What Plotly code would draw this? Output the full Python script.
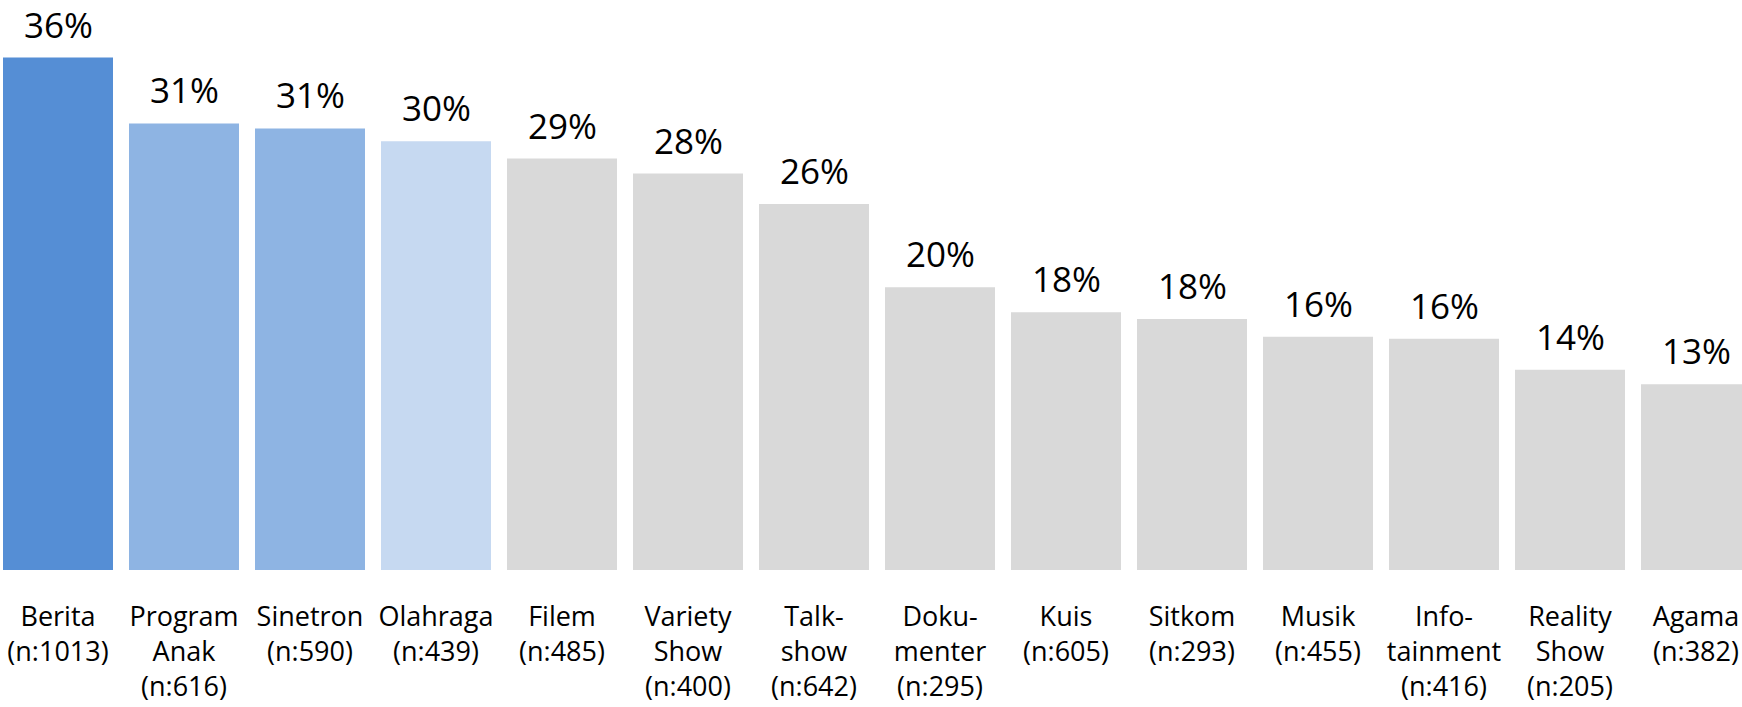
import plotly.graph_objects as go

categories = ["Berita", "Program Anak", "Sinetron", "Olahraga", "Filem", "Variety Show",
              "Talk-show", "Dokumenter", "Kuis", "Sitkom", "Musik", "Infotainment",
              "Reality Show", "Agama"]
tick_labels = ["Berita<br>(n:1013)", "Program<br>Anak<br>(n:616)", "Sinetron<br>(n:590)",
               "Olahraga<br>(n:439)", "Filem<br>(n:485)", "Variety<br>Show<br>(n:400)",
               "Talk-<br>show<br>(n:642)", "Doku-<br>menter<br>(n:295)", "Kuis<br>(n:605)",
               "Sitkom<br>(n:293)", "Musik<br>(n:455)", "Info-<br>tainment<br>(n:416)",
               "Reality<br>Show<br>(n:205)", "Agama<br>(n:382)"]
values = [0.3596, 0.3134, 0.3099, 0.3008, 0.2887, 0.2782, 0.2569, 0.1985, 0.1808,
          0.1761, 0.1637, 0.1623, 0.1406, 0.1304]
colors = ["#558ED5", "#8EB4E3", "#8EB4E3", "#C6D9F1"] + ["#D9D9D9"] * 10

FONT = "Open Sans"

fig = go.Figure(go.Bar(
    x=categories, y=values, marker=dict(color=colors, line=dict(width=0)),
    hoverinfo="skip", cliponaxis=False,
))

for c, v in zip(categories, values):
    fig.add_annotation(x=c, y=v, text=f"{round(v * 100)}%", showarrow=False,
                       yanchor="bottom", xanchor="center", yshift=8,
                       font=dict(family=FONT, size=35, color="#000000"))

fig.update_layout(
    width=1742, height=707,
    margin=dict(l=0, r=0, t=0, b=137),
    paper_bgcolor="white", plot_bgcolor="white",
    showlegend=False, bargap=0.127,
    font=dict(family=FONT, color="#000000"),
)
fig.update_xaxes(range=[-0.4603, 13.365], tickmode="array", tickvals=categories,
                 ticktext=tick_labels, ticks="", showline=False, showgrid=False,
                 zeroline=False, tickfont=dict(family=FONT, size=27, color="#000000"),
                 ticklabelstandoff=28)
fig.update_yaxes(range=[0, 0.4], visible=False, showgrid=False, zeroline=False)

fig.write_html("out.html")
